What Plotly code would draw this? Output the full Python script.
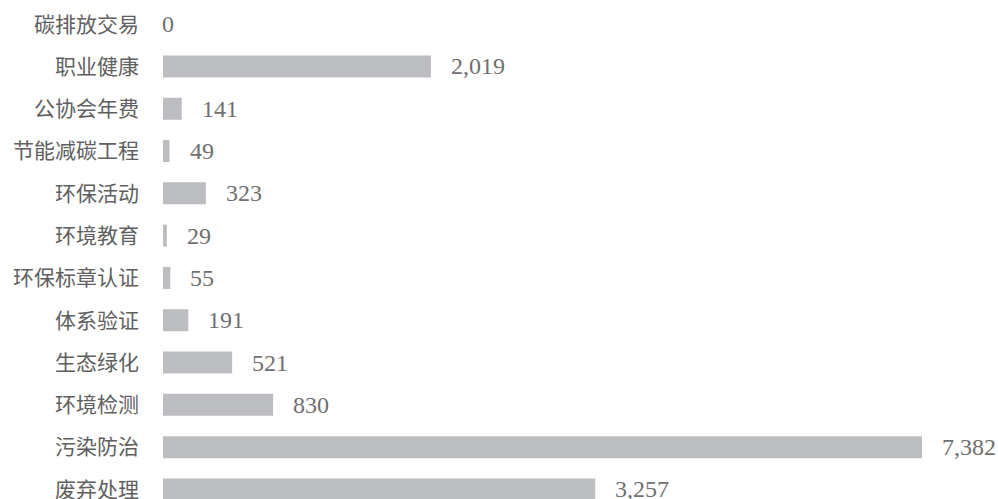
import plotly.graph_objects as go

categories = ["碳排放交易", "职业健康", "公协会年费", "节能减碳工程", "环保活动", "环境教育",
              "环保标章认证", "体系验证", "生态绿化", "环境检测", "污染防治", "废弃处理"]
values = [0, 2019, 141, 49, 323, 29, 55, 191, 521, 830, 7382, 3257]

x_max = 5720
bar_color = "#bcbdc1"
label_color = "#606060"
num_color = "#707070"

fig = go.Figure(go.Bar(
    x=values, y=categories, orientation="h",
    marker=dict(color=bar_color, line=dict(width=0)),
    width=0.52, hoverinfo="x+y",
))

for c, v in zip(categories, values):
    fig.add_annotation(
        x=min(v, x_max), y=c, xref="x", yref="y",
        text=f"{v:,}", showarrow=False, xanchor="left", yanchor="middle",
        xshift=18 if v > 0 else -3,
        font=dict(family="Liberation Serif, DejaVu Serif, serif", size=24, color=num_color),
    )

fig.update_layout(
    width=998, height=499,
    margin=dict(l=163, r=76, t=3, b=0),
    paper_bgcolor="white", plot_bgcolor="white",
    showlegend=False,
    xaxis=dict(range=[0, x_max], visible=False, fixedrange=True),
    yaxis=dict(
        type="category", categoryorder="array", categoryarray=categories,
        range=[11.226, -0.5], showgrid=False, zeroline=False, showline=False,
        ticks="", ticklabelstandoff=23, automargin=False,
        tickfont=dict(family="Noto Sans CJK SC", size=21, color=label_color),
        fixedrange=True,
    ),
)

fig.write_html("out.html", config={"displayModeBar": False})

with open("out.html", "r", encoding="utf-8") as f:
    html = f.read()
html = html.replace("<head>", "<head><style>html,body{margin:0;padding:0;overflow:hidden;}</style>", 1)
with open("out.html", "w", encoding="utf-8") as f:
    f.write(html)
